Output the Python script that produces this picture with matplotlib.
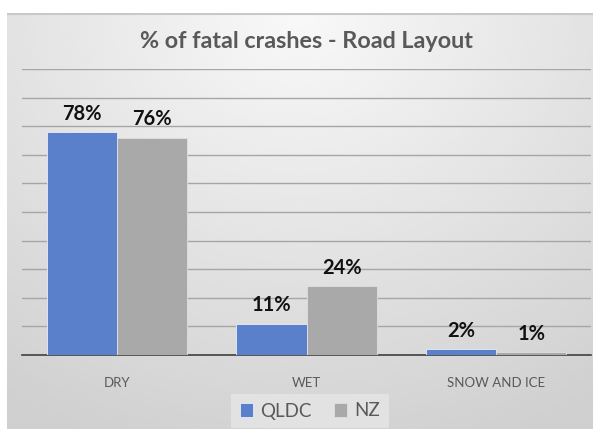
import numpy as np
import matplotlib.pyplot as plt

categories = ['DRY', 'WET', 'SNOW AND ICE']
qldc = [78, 11, 2]
nz = [76, 24, 1]
series_names = ['QLDC', 'NZ']

W, H = 593, 429
fig = plt.figure(figsize=(W / 100, H / 100), dpi=100, facecolor='white')
plt.rcParams['font.family'] = ['Lato', 'DejaVu Sans']

# chart area background with a soft gradient
bg = fig.add_axes([7 / W, 0, 1 - 7 / W, 1 - 13 / H])
yy, xx = np.mgrid[0:1:200j, -1:1:300j]
r = np.sqrt((xx * 0.6) ** 2 + (1 - yy) ** 2)
shade = 0.975 - 0.16 * np.clip(r / 1.1, 0, 1)
bg.imshow(shade, cmap='gray', vmin=0, vmax=1, aspect='auto',
          extent=[0, 1, 0, 1], origin='lower', interpolation='bicubic')
bg.plot([0, 1], [0.998, 0.998], color='#c8c8c8', lw=1.5)
bg.set_xlim(0, 1)
bg.set_ylim(0, 1)
bg.axis('off')

ax = fig.add_axes([22 / W, 1 - 355 / H, 569 / W, (355 - 69) / H])
ax.patch.set_alpha(0)
x = np.arange(len(categories))
width = 0.37
b1 = ax.bar(x - width / 2, qldc, width, color='#5a7fcb', label=series_names[0],
            edgecolor='#e8eef8', linewidth=0.6, zorder=3)
b2 = ax.bar(x + width / 2, nz, width, color='#a9a9a9', label=series_names[1],
            edgecolor='#e0e0e0', linewidth=0.6, zorder=3)

for bars in (b1, b2):
    for rect in bars:
        h = rect.get_height()
        ax.annotate(f'{h:.0f}%', (rect.get_x() + rect.get_width() / 2, h),
                    xytext=(0, 6), textcoords='offset points', ha='center',
                    va='bottom', fontsize=14.5, fontweight='bold', color='#111111')

ax.set_ylim(0, 100)
ax.set_xlim(-0.5, 2.5)
ax.set_yticks(np.arange(0, 101, 10))
ax.yaxis.grid(True, color='#a6a6a6', linewidth=1.0, zorder=0)
ax.tick_params(axis='y', left=False, labelleft=False)
ax.tick_params(axis='x', bottom=False, pad=12)
ax.set_xticks(x)
ax.set_xticklabels(categories, fontsize=9.5, color='#595959')
for side in ['top', 'right', 'left']:
    ax.spines[side].set_visible(False)
ax.spines['bottom'].set_color('#404040')
ax.spines['bottom'].set_linewidth(1.2)

fig.text(306 / W, 1 - 41 / H, '% of fatal crashes - Road Layout', ha='center',
         va='center', fontsize=16.8, fontweight='bold', color='#595959')

leg = fig.legend(loc='center', bbox_to_anchor=(310 / W, 1 - 411 / H), ncol=2,
                 frameon=True, fontsize=13.5, handlelength=0.7, handleheight=0.7,
                 handletextpad=0.4, columnspacing=1.2, borderpad=0.3)
leg.get_frame().set_facecolor('#e2e2e2')
leg.get_frame().set_edgecolor('none')
leg.get_frame().set_alpha(1)
leg.get_frame().set_boxstyle('square', pad=0.15)
for t in leg.get_texts():
    t.set_color('#595959')

fig.savefig('out.png', dpi=100, facecolor='white')
